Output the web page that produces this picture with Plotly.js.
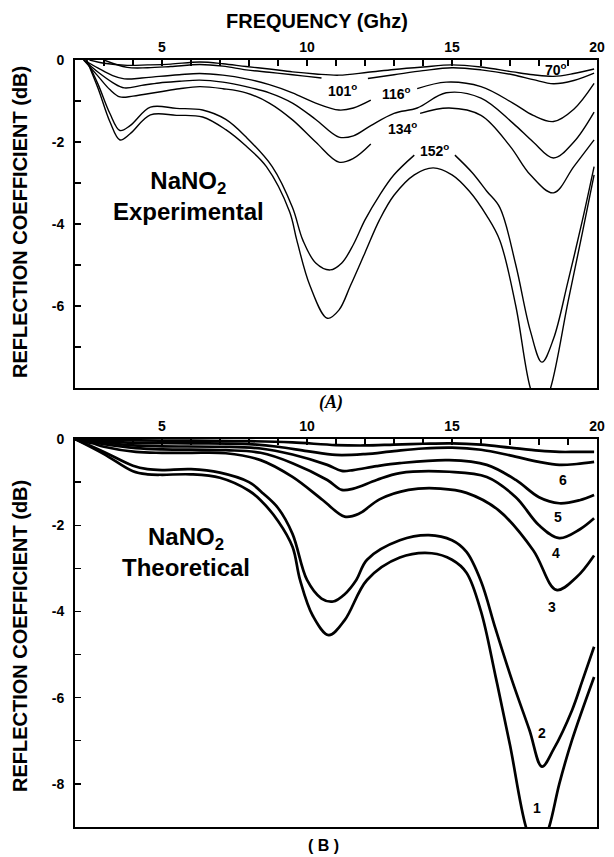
<!DOCTYPE html>
<html>
<head>
<meta charset="utf-8">
<script src="https://cdn.plot.ly/plotly-3.0.1.min.js"></script>
<style>html,body{margin:0;padding:0;background:#fff;}#chart{width:614px;height:857px;}</style>
</head>
<body>
<div id="chart"></div>
<script>
// ---------- Panel A : experimental (frequency GHz, reflection dB) ----------
const expFreq70  = [2.5, 3.0, 3.8, 4.5, 5.3, 6.3, 7.1, 7.9, 8.7, 9.5, 10.3, 11.1, 12.1, 13.0, 14.0, 15.0, 16.0, 17.1, 17.8, 18.5, 19.2, 19.9];
const expRc70    = [0, -0.08, -0.13, -0.12, -0.1, -0.05, -0.09, -0.16, -0.22, -0.29, -0.34, -0.37, -0.3, -0.23, -0.17, -0.12, -0.17, -0.29, -0.36, -0.4, -0.33, -0.22];
const expFreq101 = [3.0, 3.8, 4.5, 5.3, 6.3, 7.1, 7.9, 8.7, 9.5, 10.0, 10.5, 11.2, 12.1, 13.0, 14.0, 15.0, 16.0, 17.1, 17.8, 18.5, 19.2, 19.9];
const expRc101   = [0, -0.18, -0.19, -0.16, -0.11, -0.15, -0.24, -0.3, -0.36, -0.4, -0.44, null, -0.45, -0.36, -0.26, -0.19, -0.24, -0.36, -0.48, -0.58, -0.5, -0.32];
const expFreq116 = [2.3, 2.8, 3.3, 3.7, 4.3, 4.9, 5.6, 6.3, 7.1, 7.9, 8.7, 9.5, 10.3, 11.1, 11.6, 12.2, 13.0, 13.8, 14.8, 16.0, 17.1, 17.8, 18.5, 19.2, 19.9];
const expRc116   = [0, -0.2, -0.38, -0.46, -0.44, -0.4, -0.36, -0.33, -0.37, -0.46, -0.6, -0.8, -1.05, -1.22, -1.17, -0.98, null, -0.7, -0.54, -0.65, -1.05, -1.35, -1.5, -1.2, -0.57];
const expFreq134 = [2.3, 2.8, 3.3, 3.7, 4.3, 4.9, 5.6, 6.3, 7.1, 7.9, 8.7, 9.5, 10.3, 11.1, 11.6, 12.2, 13.0, 13.8, 14.8, 16.0, 17.1, 17.8, 18.5, 19.2, 19.9];
const expRc134   = [0, -0.3, -0.55, -0.68, -0.62, -0.56, -0.52, -0.49, -0.54, -0.65, -0.8, -1.05, -1.45, -1.88, -1.85, -1.6, -1.3, -1.17, -0.8, -0.93, -1.54, -2.0, -2.39, -2.0, -1.27];
const expFreq152 = [2.3, 2.8, 3.2, 3.55, 4.0, 4.9, 5.6, 6.3, 7.1, 7.9, 8.7, 9.5, 10.3, 11.1, 11.6, 12.2, 13.2, 13.9, 14.9, 16.0, 17.0, 17.7, 18.5, 19.2, 19.9];
const expRc152   = [0, -0.4, -0.72, -0.9, -0.88, -0.78, -0.7, -0.65, -0.7, -0.8, -1.05, -1.46, -2.0, -2.49, -2.4, -2.05, null, -1.3, -1.17, -1.35, -2.1, -2.8, -3.24, -2.6, -1.95];
const expFreqD1  = [2.4, 2.8, 3.2, 3.55, 3.9, 4.6, 5.5, 6.4, 7.2, 7.9, 8.8, 9.5, 9.86, 10.3, 10.8, 11.2, 11.6, 12.0, 12.5, 13.0, 13.7, 14.4, 15.1, 15.7, 16.2, 16.65, 17.2, 17.7, 18.1, 18.5, 19.0, 19.5, 19.9];
const expRcD1    = [0, -0.6, -1.3, -1.72, -1.6, -1.15, -1.18, -1.22, -1.45, -1.88, -2.6, -3.6, -4.4, -4.95, -5.12, -4.95, -4.5, -3.9, -3.3, -2.8, -2.32, null, -2.32, -2.75, -3.2, -3.6, -5.0, -6.6, -7.37, -6.8, -5.4, -3.9, -2.6];
const expFreqD2  = [2.4, 2.8, 3.2, 3.55, 3.9, 4.6, 5.5, 6.4, 7.2, 7.9, 8.6, 9.4, 9.65, 10.1, 10.7, 11.1, 11.5, 12.0, 12.5, 13.0, 13.7, 14.35, 15.0, 15.6, 16.2, 16.65, 17.2, 17.7, 18.05, 18.4, 19.0, 19.5, 19.9];
const expRcD2    = [0, -0.7, -1.5, -1.95, -1.8, -1.34, -1.35, -1.39, -1.7, -2.1, -2.6, -3.7, -4.4, -5.5, -6.3, -6.1, -5.5, -4.7, -3.9, -3.3, -2.8, -2.63, -2.8, -3.2, -3.8, -4.4, -6.0, -8.0, -8.6, -8.0, -5.9, -4.2, -2.8];

// ---------- Panel B : theoretical ----------
const thFreq7 = [2, 4, 6, 8, 9.5, 11, 12, 13, 14, 15, 16, 17, 18, 18.7, 19.3, 19.9];
const thRc7   = [0, -0.03, -0.04, -0.05, -0.08, -0.14, -0.15, -0.13, -0.11, -0.1, -0.13, -0.2, -0.27, -0.3, -0.3, -0.3];
const thFreq6 = [2, 3, 4, 6, 8, 9, 10, 11, 12, 13, 14, 15, 16, 17, 18, 18.7, 19.3, 19.9];
const thRc6   = [0, -0.05, -0.09, -0.1, -0.12, -0.18, -0.28, -0.37, -0.35, -0.28, -0.22, -0.2, -0.25, -0.38, -0.53, -0.6, -0.58, -0.53];
const thFreq5 = [2, 3, 4, 5, 7, 8.4, 9.5, 10.7, 11.2, 11.6, 12.4, 13.2, 14.9, 16.2, 17.2, 18.0, 18.7, 19.4, 19.9];
const thRc5   = [0, -0.08, -0.15, -0.17, -0.18, -0.22, -0.36, -0.6, -0.74, -0.72, -0.63, -0.56, -0.49, -0.6, -0.95, -1.35, -1.49, -1.42, -1.3];
const thFreq4 = [2, 3, 4.1, 5, 7.2, 8.4, 9.5, 10.7, 11.2, 11.6, 12.4, 13.2, 14.9, 16.2, 17.2, 18.0, 18.7, 19.4, 19.9];
const thRc4   = [0, -0.12, -0.21, -0.24, -0.26, -0.32, -0.56, -0.95, -1.18, -1.15, -0.95, -0.79, -0.76, -0.88, -1.35, -2.0, -2.3, -2.1, -1.84];
const thFreq3 = [2, 2.6, 3, 4.1, 5, 6, 7.2, 8.4, 9.5, 10.55, 11.3, 11.8, 12.5, 13.5, 14.6, 15.5, 16.6, 17.8, 18.6, 19.3, 19.9];
const thRc3   = [0, -0.1, -0.18, -0.3, -0.32, -0.32, -0.33, -0.49, -0.88, -1.42, -1.8, -1.73, -1.4, -1.18, -1.15, -1.25, -1.65, -2.58, -3.5, -3.2, -2.7];
const thFreq2 = [2, 3, 4, 4.5, 5, 6, 7, 8, 8.5, 9, 9.5, 10, 10.5, 10.9, 11.3, 11.7, 12.07, 13.2, 14.2, 15, 15.5, 16, 16.5, 17.07, 17.67, 18.1, 18.5, 19.14, 19.5, 19.9];
const thRc2   = [0, -0.3, -0.62, -0.7, -0.72, -0.7, -0.78, -1.0, -1.27, -1.6, -2.2, -3.27, -3.7, -3.77, -3.6, -3.27, -2.8, -2.35, -2.23, -2.35, -2.62, -3.3, -4.4, -5.6, -6.75, -7.6, -7.2, -6.29, -5.6, -4.82];
const thFreq1 = [2, 3, 4, 4.5, 5, 6, 7, 8, 8.4, 9, 9.5, 9.76, 10.2, 10.75, 11.3, 12.07, 13.2, 14.3, 15, 15.5, 16, 16.5, 17.0, 17.55, 17.95, 18.35, 18.7, 19.14, 19.9];
const thRc1   = [0, -0.35, -0.75, -0.82, -0.83, -0.82, -0.9, -1.2, -1.42, -1.9, -2.5, -3.27, -4.1, -4.55, -4.2, -3.27, -2.75, -2.65, -2.8, -3.1, -4.0, -5.5, -7.1, -9.0, -9.7, -9.0, -8.0, -6.98, -5.52];

// tick values and labels
const freqMajor = [5, 10, 15, 20];
const freqMinor = [3, 4, 6, 7, 8, 9, 11, 12, 13, 14, 16, 17, 18, 19];
const rcMajorA = [0, -2, -4, -6];
const rcMajorB = [0, -2, -4, -6, -8];
const rcMinor  = [-1, -3, -5, -7];

const expSeries = [
  [expFreq70, expRc70], [expFreq101, expRc101], [expFreq116, expRc116],
  [expFreq134, expRc134], [expFreq152, expRc152], [expFreqD1, expRcD1], [expFreqD2, expRcD2]
];
const thSeries = [
  [thFreq7, thRc7], [thFreq6, thRc6], [thFreq5, thRc5], [thFreq4, thRc4],
  [thFreq3, thRc3], [thFreq2, thRc2], [thFreq1, thRc1]
];

const traces = [];
expSeries.forEach(s => traces.push({
  x: s[0], y: s[1], xaxis: 'x', yaxis: 'y', mode: 'lines', connectgaps: false,
  line: {color: '#000', width: 1.4, shape: 'spline', smoothing: 1}, hoverinfo: 'skip'
}));
thSeries.forEach(s => traces.push({
  x: s[0], y: s[1], xaxis: 'x2', yaxis: 'y2', mode: 'lines', connectgaps: false,
  line: {color: '#000', width: 2.7, shape: 'spline', smoothing: 1}, hoverinfo: 'skip'
}));

const FONT = 'Liberation Sans, Arial, Helvetica, sans-serif';
const tickFont = {family: FONT, size: 14, color: '#000', weight: 'bold'};
function xAx(anchor) {
  return {
    anchor: anchor, domain: [0, 1], range: [2, 20], side: 'top',
    tickmode: 'array', tickvals: freqMajor, ticktext: freqMajor.map(String),
    ticks: 'inside', ticklen: 6, tickwidth: 1.3, tickcolor: '#000',
    minor: {tickmode: 'array', tickvals: freqMinor, ticks: 'inside', ticklen: 6, tickwidth: 1.3, tickcolor: '#000', showgrid: false},
    showline: true, linecolor: '#000', linewidth: 2, mirror: true,
    showgrid: false, zeroline: false, tickfont: tickFont, fixedrange: true
  };
}
function yAx(anchor, dom, rng, major) {
  return {
    anchor: anchor, domain: dom, range: rng,
    tickmode: 'array', tickvals: major, ticktext: major.map(String),
    ticks: 'inside', ticklen: 6, tickwidth: 1.3, tickcolor: '#000',
    minor: {tickmode: 'array', tickvals: rcMinor, ticks: 'inside', ticklen: 6, tickwidth: 1.3, tickcolor: '#000', showgrid: false},
    ticklabelstandoff: 6,
    showline: true, linecolor: '#000', linewidth: 2, mirror: true,
    showgrid: false, zeroline: false, tickfont: tickFont, fixedrange: true
  };
}

function lab(text, x, y, xr, yr, size) {
  return {text: text, x: x, y: y, xref: xr, yref: yr, showarrow: false,
          xanchor: 'center', yanchor: 'middle', align: 'center',
          font: {family: FONT, size: size || 14, color: '#000', weight: 'bold'}};
}

const annotations = [
  lab('FREQUENCY (Ghz)', (317 - 75) / 522, 1 - 21 / 857, 'paper', 'paper', 20),
  Object.assign(lab('REFLECTION COEFFICIENT (dB)', (20 - 75) / 522, 1 - 222 / 857, 'paper', 'paper', 20), {textangle: -90}),
  Object.assign(lab('REFLECTION COEFFICIENT (dB)', (20 - 75) / 522, 1 - 636 / 857, 'paper', 'paper', 20), {textangle: -90}),
  lab('70<sup>o</sup>', 18.6, -0.22, 'x', 'y'),
  lab('101<sup>o</sup>', 11.24, -0.73, 'x', 'y'),
  lab('116<sup>o</sup>', 13.1, -0.81, 'x', 'y'),
  lab('134<sup>o</sup>', 13.3, -1.66, 'x', 'y'),
  lab('152<sup>o</sup>', 14.4, -2.2, 'x', 'y'),
  lab('NaNO<sub>2</sub><br>Experimental', 5.9, -3.32, 'x', 'y', 24),
  lab('NaNO<sub>2</sub><br>Theoretical', 5.82, -2.62, 'x2', 'y2', 24),
  lab('6', 18.83, -0.95, 'x2', 'y2'),
  lab('5', 18.66, -1.81, 'x2', 'y2'),
  lab('4', 18.59, -2.65, 'x2', 'y2'),
  lab('3', 18.46, -3.89, 'x2', 'y2'),
  lab('2', 18.1, -6.82, 'x2', 'y2'),
  lab('1', 17.92, -8.56, 'x2', 'y2'),
  {text: '(A)', x: (331 - 75) / 522, y: 1 - 402 / 857, xref: 'paper', yref: 'paper', showarrow: false,
   xanchor: 'center', yanchor: 'middle',
   font: {family: 'Liberation Serif, Times New Roman, serif', size: 18, color: '#000', weight: 'bold', style: 'italic'}},
  lab('( B )', (323 - 75) / 522, 1 - 845 / 857, 'paper', 'paper', 16)
];

const layout = {
  width: 614, height: 857,
  margin: {l: 75, r: 17, t: 0, b: 0, pad: 0},
  paper_bgcolor: '#fff', plot_bgcolor: '#fff',
  showlegend: false,
  font: {family: FONT, color: '#000'},
  xaxis: xAx('y'),
  yaxis: yAx('x', [1 - 388 / 857, 1 - 60 / 857], [-8, 0], rcMajorA),
  xaxis2: xAx('y2'),
  yaxis2: yAx('x2', [1 - 827 / 857, 1 - 439 / 857], [-9, 0], rcMajorB),
  annotations: annotations
};

Plotly.newPlot('chart', traces, layout, {displayModeBar: false, staticPlot: true});
</script>
</body>
</html>
